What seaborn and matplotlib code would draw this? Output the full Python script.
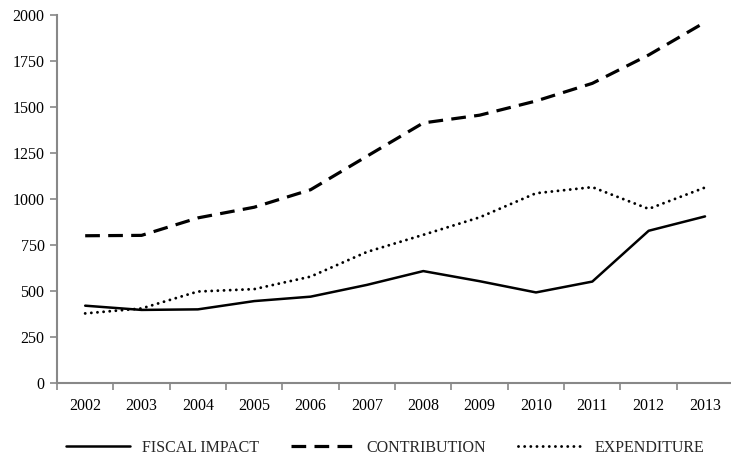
import numpy as np
import pandas as pd
import matplotlib.pyplot as plt
import seaborn as sns
from matplotlib.ticker import FixedLocator

# Data
years = ["2002", "2003", "2004", "2005", "2006", "2007",
         "2008", "2009", "2010", "2011", "2012", "2013"]
fiscal_impact = [420, 397, 400, 445, 469, 533, 608, 553, 492, 551, 827, 905]
contribution = [800, 802, 897, 955, 1050, 1232, 1413, 1455, 1532, 1628, 1782, 1960]
expenditure = [378, 405, 497, 510, 578, 712, 805, 900, 1031, 1064, 946, 1062]

df = pd.DataFrame({
    "Year": years * 3,
    "Value": fiscal_impact + contribution + expenditure,
    "Series": ["FISCAL IMPACT"] * 12 + ["CONTRIBUTION"] * 12 + ["EXPENDITURE"] * 12,
})

sns.set_theme(style="white")
plt.rcParams["font.family"] = ["Liberation Serif", "DejaVu Serif"]

fig = plt.figure(figsize=(7.31, 4.59), dpi=100)
ax = fig.add_axes([0.078, 0.1656, 0.925, 0.802])

styles = {
    "FISCAL IMPACT": dict(linestyle="-", linewidth=1.8),
    "CONTRIBUTION": dict(linestyle=(0, (4.6, 2.6)), linewidth=2.3),
    "EXPENDITURE": dict(linestyle=(0, (0.01, 2.1)), linewidth=2.1, dash_capstyle="round"),
}
for name, kw in styles.items():
    sub = df[df["Series"] == name]
    sns.lineplot(data=sub, x="Year", y="Value", ax=ax, color="black", label=name,
                 sort=False, **kw)

ax.set_xlim(-0.5, 11.5)
ax.set_ylim(0, 2000)
ax.set_yticks(np.arange(0, 2001, 250))
ax.set_xlabel("")
ax.set_ylabel("")

# tick marks between categories, labels at the centres
ax.xaxis.set_minor_locator(FixedLocator(np.arange(-0.5, 12, 1)))
ax.tick_params(axis="x", which="major", length=0, labelsize=11.5, pad=11, colors="black")
ax.tick_params(axis="x", which="minor", length=5, width=1.2, color="#888888", direction="out")
ax.tick_params(axis="y", which="major", length=5, width=1.2, color="#888888",
               labelsize=11.5, pad=4, labelcolor="black", left=True)
ax.tick_params(axis="x", bottom=True, which="both")

for side in ["top", "right"]:
    ax.spines[side].set_visible(False)
for side in ["left", "bottom"]:
    ax.spines[side].set_color("#888888")
    ax.spines[side].set_linewidth(1.5)

ax.legend(loc="upper center", bbox_to_anchor=(0.485, -0.115), ncol=3, frameon=False,
          fontsize=11.5, handlelength=4.0, handletextpad=0.75, columnspacing=2.0)

plt.savefig("out.png", dpi=100)
